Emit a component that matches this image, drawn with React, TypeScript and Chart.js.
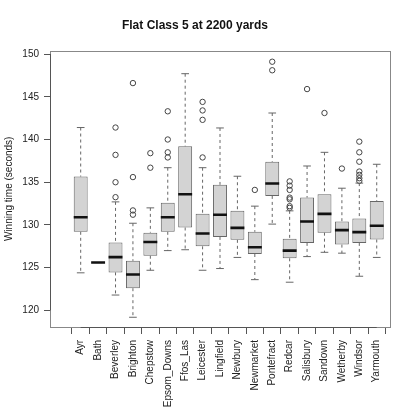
import React, { useEffect, useRef } from "react";
import { Chart, registerables } from "chart.js";

Chart.register(...registerables);

const categories = [
  "Ayr", "Bath", "Beverley", "Brighton", "Chepstow", "Epsom_Downs", "Ffos_Las",
  "Leicester", "Lingfield", "Newbury", "Newmarket", "Pontefract", "Redcar",
  "Salisbury", "Sandown", "Wetherby", "Windsor", "Yarmouth",
];

const whiskerLow = [124.4, 125.6, 121.8, 119.2, 124.7, 127.0, 127.1, 124.7, 124.9, 126.2, 123.6, 130.1, 123.3, 126.3, 126.8, 126.7, 124.0, 126.2];
const q1 = [129.2, 125.6, 124.45, 122.6, 126.4, 129.2, 129.7, 127.5, 128.6, 128.26, 126.6, 133.4, 126.1, 127.9, 129.1, 127.7, 127.9, 128.3];
const medians = [130.9, 125.6, 126.24, 124.2, 128.0, 130.9, 133.6, 129.0, 131.2, 129.66, 127.4, 134.85, 127.0, 130.4, 131.3, 129.4, 129.16, 129.9];
const q3 = [135.66, 125.6, 127.95, 125.8, 129.1, 132.6, 139.2, 131.3, 134.7, 131.65, 129.2, 137.4, 128.4, 133.2, 133.6, 130.4, 130.75, 132.8];
const whiskerHigh = [141.4, 125.6, 132.7, 130.2, 132.0, 136.7, 147.7, 136.7, 141.35, 135.7, 132.2, 143.1, 131.65, 136.9, 138.5, 134.3, 134.9, 137.1];
const outliers: number[][] = [
  [],
  [],
  [141.4, 138.2, 135.0, 133.25],
  [146.6, 135.6, 131.7, 131.2],
  [138.4, 136.7],
  [143.3, 140.0, 138.5, 137.9],
  [],
  [144.4, 143.4, 142.3, 137.9],
  [],
  [],
  [134.1],
  [149.1, 148.1],
  [135.1, 134.6, 134.1, 133.2, 133.0, 132.2, 132.0],
  [145.9],
  [143.1],
  [136.6],
  [139.75, 138.5, 137.4, 136.25, 135.86, 135.47, 135.16],
  [],
];
const yTicks = [120, 125, 130, 135, 140, 145, 150];

const TITLE = "Flat Class 5 at 2200 yards";
const Y_TITLE = "Winning time (seconds)";
const FONT = "'Liberation Sans', Arial, Helvetica, sans-serif";

export default function App() {
  const ref = useRef<HTMLCanvasElement | null>(null);

  useEffect(() => {
    if (!ref.current) return;

    const medianData: any[] = [];
    const whiskerData: any[] = [];
    const capHi: any[] = [];
    const capLo: any[] = [];
    const outData: any[] = [];
    categories.forEach((_, i) => {
      medianData.push({ x: i - 0.4, y: medians[i] }, { x: i + 0.4, y: medians[i] }, { x: i + 0.4, y: null });
      whiskerData.push(
        { x: i, y: whiskerHigh[i] }, { x: i, y: q3[i] }, { x: i, y: null },
        { x: i, y: q1[i] }, { x: i, y: whiskerLow[i] }, { x: i, y: null }
      );
      capHi.push({ x: i - 0.22, y: whiskerHigh[i] }, { x: i + 0.22, y: whiskerHigh[i] }, { x: i + 0.22, y: null });
      capLo.push({ x: i - 0.22, y: whiskerLow[i] }, { x: i + 0.22, y: whiskerLow[i] }, { x: i + 0.22, y: null });
      outliers[i].forEach((v) => outData.push({ x: i, y: v }));
    });
    const boxData = categories.map((_, i) => ({ x: i, y: [q1[i], q3[i]] }));

    const lineBase = {
      type: "line" as const,
      pointRadius: 0,
      pointHitRadius: 0,
      spanGaps: false,
      fill: false,
      tension: 0,
    };

    const framePlugin = {
      id: "rframe",
      afterDraw(chart: any) {
        const { ctx, chartArea, scales } = chart;
        ctx.save();
        ctx.strokeStyle = "#888";
        ctx.lineWidth = 1;
        ctx.strokeRect(
          Math.round(chartArea.left) + 0.5,
          Math.round(chartArea.top) + 0.5,
          Math.round(chartArea.right - chartArea.left),
          Math.round(chartArea.bottom - chartArea.top)
        );
        const y = scales.y;
        const x = scales.x;
        ctx.strokeStyle = "#555";
        ctx.beginPath();
        const xl = Math.round(chartArea.left) + 0.5;
        ctx.moveTo(xl, y.getPixelForValue(yTicks[0]));
        ctx.lineTo(xl, y.getPixelForValue(yTicks[yTicks.length - 1]));
        const yb = Math.round(chartArea.bottom) + 0.5;
        ctx.moveTo(x.getPixelForValue(0), yb);
        ctx.lineTo(x.getPixelForValue(categories.length - 1), yb);
        ctx.stroke();
        ctx.restore();
      },
    };

    const chart = new Chart(ref.current, {
      type: "bar",
      data: {
        datasets: [
          {
            ...lineBase,
            data: medianData,
            borderColor: "#111",
            borderWidth: 2.6,
            borderCapStyle: "butt",
          } as any,
          {
            type: "bar",
            data: boxData as any,
            backgroundColor: "#d3d3d3",
            borderColor: "#666",
            borderWidth: 1,
            borderSkipped: false,
            categoryPercentage: 1,
            barPercentage: 0.8,
          } as any,
          {
            ...lineBase,
            data: whiskerData,
            borderColor: "#666",
            borderWidth: 1,
            borderDash: [3, 3],
          } as any,
          {
            ...lineBase,
            data: capHi,
            borderColor: "#666",
            borderWidth: 1,
          } as any,
          {
            ...lineBase,
            data: capLo,
            borderColor: "#666",
            borderWidth: 1,
          } as any,
          {
            type: "scatter",
            data: outData,
            pointStyle: "circle",
            pointRadius: 2.7,
            pointBorderWidth: 1,
            pointBorderColor: "#444",
            pointBackgroundColor: "rgba(0,0,0,0)",
            borderColor: "#444",
            backgroundColor: "rgba(0,0,0,0)",
          } as any,
        ],
      },
      options: {
        animation: false,
        responsive: false,
        devicePixelRatio: 1,
        layout: { padding: { top: 0, right: 26, bottom: 0, left: 0 } },
        plugins: {
          legend: { display: false },
          tooltip: { enabled: false },
          title: {
            display: true,
            text: TITLE,
            color: "#111",
            font: { family: FONT, size: 12, weight: "bold" },
            padding: { top: 18.3, bottom: 18 },
          },
        },
        scales: {
          x: {
            type: "linear",
            min: -1.22,
            max: 17.22,
            afterBuildTicks: (scale: any) => {
              scale.ticks = categories.map((_, i) => ({ value: i }));
            },
            afterFit: (scale: any) => {
              scale.height = 89;
            },
            ticks: {
              autoSkip: false,
              maxRotation: 90,
              minRotation: 90,
              padding: 6,
              color: "#222",
              font: { family: FONT, size: 10 },
              callback: (v: any) => categories[Number(v)] ?? "",
            },
            grid: {
              display: true,
              drawOnChartArea: false,
              drawTicks: true,
              tickLength: 7,
              color: "#555",
            },
            border: { display: false },
          },
          y: {
            type: "linear",
            min: 118.06,
            max: 150.39,
            afterBuildTicks: (scale: any) => {
              scale.ticks = yTicks.map((v) => ({ value: v }));
            },
            afterFit: (scale: any) => {
              scale.width = 50;
            },
            ticks: {
              padding: 5,
              color: "#222",
              font: { family: FONT, size: 10 },
              callback: (v: any) => String(v),
            },
            grid: {
              display: true,
              drawOnChartArea: false,
              drawTicks: true,
              tickLength: 6,
              color: "#555",
            },
            border: { display: false },
            title: {
              display: true,
              text: Y_TITLE,
              color: "#222",
              font: { family: FONT, size: 10 },
              padding: { top: 3, bottom: 0 },
            },
          },
        },
      },
      plugins: [framePlugin],
    });

    return () => chart.destroy();
  }, []);

  return (
    <div style={{ position: "fixed", left: 0, top: 0, width: 416, height: 416, background: "#fff" }}>
      <canvas ref={ref} width={416} height={416} style={{ display: "block" }} />
    </div>
  );
}
